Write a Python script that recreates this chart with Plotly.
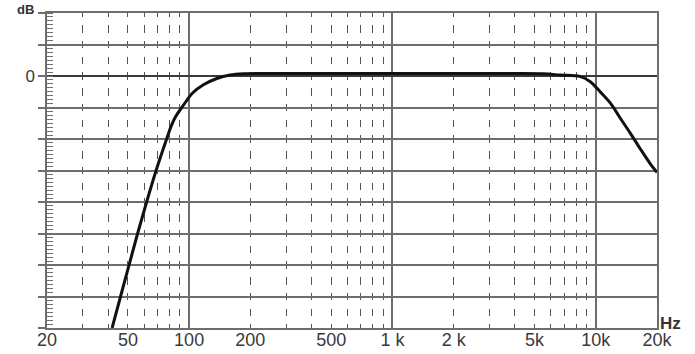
import math
import plotly.graph_objects as go

# ---- data ----
freq_hz = [41.8, 46.0, 50.65, 55.8, 61.8, 68.8, 77.5, 81.5, 86.0, 93.0, 104.0, 117.6,
           136.8, 159.0, 185.0, 250.0, 500.0, 1000.0, 2000.0, 4000.0, 5500.0, 6700.0,
           8400.0, 9400.0, 10500.0, 11800.0, 13200.0, 14800.0, 16500.0, 18500.0, 20000.0]
level_db = [-40.0, -35.0, -30.0, -25.0, -20.0, -15.0, -10.0, -8.0, -6.4, -4.8, -2.7, -1.4,
            -0.4, 0.15, 0.35, 0.4, 0.4, 0.4, 0.4, 0.4, 0.35, 0.15,
            -0.1, -0.9, -2.5, -4.3, -6.7, -9.1, -11.5, -13.9, -15.3]

x_tick_vals = [20, 50, 100, 200, 500, 1000, 2000, 5000, 10000, 20000]
x_tick_text = ["20", "50", "100", "200", "500", "1 k", "2 k", "5k", "10k", "20k"]
decade_lines = [100, 1000, 10000]
minor_lines = [m * 10 ** e for e in (1, 2, 3) for m in range(2, 10)
               if 20 < m * 10 ** e < 20000]
y_tick_vals = list(range(-40, 15, 5))
y_tick_text = ["0" if v == 0 else "" for v in y_tick_vals]

FONT = "Liberation Sans, Arial, sans-serif"
GRID = "#6e6e6e"

fig = go.Figure()
# main curve on the labelled axis
fig.add_trace(go.Scatter(
    x=freq_hz, y=level_db, mode="lines", xaxis="x", yaxis="y",
    line=dict(color="#111111", width=3, shape="spline", smoothing=1.0),
    hoverinfo="skip", showlegend=False))
# invisible copy so the decade-grid overlay axis is laid out
fig.add_trace(go.Scatter(
    x=freq_hz, y=level_db, mode="lines", xaxis="x2", yaxis="y",
    line=dict(color="rgba(0,0,0,0)", width=0), opacity=0,
    hoverinfo="skip", showlegend=False))

xrange = [math.log10(20), math.log10(20000)]

fig.update_layout(
    width=695, height=354,
    margin=dict(l=47, r=38, t=13, b=26, autoexpand=False),
    paper_bgcolor="white", plot_bgcolor="white",
    font=dict(family=FONT, color="#333333"),
    xaxis=dict(
        type="log", range=xrange, tickmode="array", automargin=False,
        tickvals=x_tick_vals, ticktext=x_tick_text,
        tickfont=dict(size=18, color="#3a3a3a", family=FONT),
        ticks="", showgrid=False, zeroline=False, ticklabelstandoff=-5,
        showline=True, linecolor=GRID, linewidth=1.5, mirror=True,
        minor=dict(tickvals=minor_lines, showgrid=True, gridcolor="#555555",
                   gridwidth=1.2, griddash="3.75px,8.25px,3.75px,0px", ticks=""),
    ),
    xaxis2=dict(
        type="log", range=xrange, overlaying="x", anchor="y", side="bottom",
        automargin=False,
        tickmode="array", tickvals=decade_lines, showticklabels=False,
        ticks="", showgrid=True, gridcolor=GRID, gridwidth=1.5,
        zeroline=False, showline=False,
    ),
    yaxis=dict(
        range=[-40, 10], tickmode="array", tickvals=y_tick_vals, ticktext=y_tick_text,
        automargin=False,
        tickfont=dict(size=17, color="#3a3a3a", family=FONT),
        ticks="outside", ticklen=7, tickwidth=1.5, tickcolor=GRID,
        showgrid=True, gridcolor=GRID, gridwidth=1.5,
        zeroline=True, zerolinecolor="#3a3a3a", zerolinewidth=2,
        showline=True, linecolor=GRID, linewidth=1.5, mirror=True,
        minor=dict(dtick=0.625, tick0=0, ticks="inside", ticklen=6,
                   tickwidth=1, tickcolor=GRID, showgrid=False),
    ),
    annotations=[
        dict(text="<b>dB</b>", xref="paper", yref="paper", x=0, y=1,
             xanchor="right", yanchor="bottom", xshift=-11, yshift=-6,
             showarrow=False, font=dict(size=13, color="#333333", family=FONT)),
        dict(text="<b>Hz</b>", xref="paper", yref="paper", x=1, y=0,
             xanchor="left", yanchor="bottom", xshift=1, yshift=-7,
             showarrow=False, font=dict(size=17, color="#333333", family=FONT)),
    ],
)

fig.write_html("out.html")
